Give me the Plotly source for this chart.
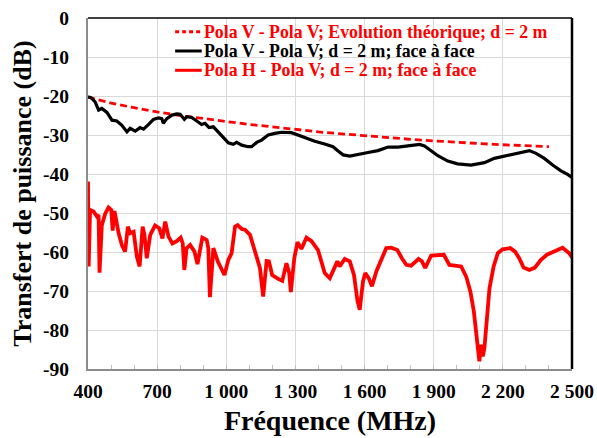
import plotly.graph_objects as go

# Theoretical evolution (Pola V - Pola V)
theo_freq = [400, 500, 600, 700, 800, 900, 1000, 1100, 1200, 1300, 1400, 1500, 1600, 1700,
             1800, 1900, 2000, 2100, 2200, 2300, 2400]
theo_db = [-20.3, -21.8, -23.0, -24.1, -25.0, -25.8, -26.6, -27.3, -27.9, -28.6, -29.2, -29.7,
           -30.2, -30.6, -31.1, -31.5, -31.9, -32.2, -32.5, -32.8, -33.0]

# Pola V - Pola V measured
vv_freq = [400, 414, 431, 446, 460, 482, 504, 525, 547, 569, 583, 605, 626, 641, 663, 684, 706,
           720, 727, 742, 764, 785, 800, 818, 829, 850, 872, 893, 908, 925, 944, 966, 987, 1009,
           1030, 1045, 1067, 1095, 1110, 1132, 1153, 1182, 1211, 1240, 1283, 1305, 1341, 1384,
           1427, 1463, 1485, 1507, 1536, 1572, 1615, 1658, 1702, 1745, 1788, 1802, 1839, 1860,
           1889, 1918, 1961, 2004, 2062, 2120, 2163, 2207, 2250, 2293, 2315, 2344, 2380, 2416,
           2452, 2481, 2500]
vv_db = [-20.2, -20.5, -21.5, -23.6, -23.2, -24.2, -26.2, -26.4, -27.5, -29.2, -28.3, -29.0,
         -28.1, -28.5, -27.3, -26.0, -25.6, -25.8, -27.0, -25.8, -24.9, -24.6, -24.7, -26.0,
         -25.3, -25.5, -26.4, -27.3, -27.0, -28.1, -27.9, -29.2, -30.7, -32.0, -32.4, -31.9,
         -32.6, -33.0, -33.0, -31.9, -31.3, -30.0, -29.6, -29.3, -29.4, -29.9, -30.7, -31.6,
         -32.3, -33.0, -34.1, -35.1, -35.4, -34.9, -34.5, -34.0, -33.1, -33.1, -32.8, -32.6,
         -32.4, -32.8, -34.1, -35.3, -36.7, -37.4, -37.7, -37.1, -36.0, -35.4, -35.0, -34.3,
         -34.0, -34.7, -36.0, -37.7, -39.2, -40.1, -40.9]

# Pola H - Pola V measured
hv_freq = [400, 403, 409, 424, 439, 446, 450, 460, 475, 489, 501, 507, 515, 533, 547, 561, 573,
           583, 598, 612, 624, 637, 645, 655, 670, 691, 709, 723, 735, 749, 766, 785, 802, 811,
           818, 828, 843, 862, 875, 886, 896, 915, 922, 929, 944, 963, 977, 992, 1009, 1023,
           1038, 1049, 1067, 1081, 1103, 1124, 1146, 1160, 1175, 1185, 1199, 1225, 1243, 1261,
           1273, 1280, 1295, 1309, 1326, 1348, 1370, 1398, 1427, 1449, 1468, 1482, 1492, 1514,
           1536, 1554, 1569, 1579, 1593, 1603, 1618, 1632, 1651, 1673, 1694, 1716, 1742, 1762,
           1781, 1802, 1834, 1849, 1863, 1889, 1918, 1944, 1968, 1997, 2019, 2041, 2059, 2074,
           2088, 2098, 2106, 2113, 2120, 2127, 2142, 2160, 2178, 2199, 2232, 2253, 2271, 2290,
           2315, 2339, 2365, 2391, 2416, 2437, 2459, 2474, 2488, 2500]
hv_db = [-41.9, -63.7, -49.2, -49.6, -50.9, -50.5, -65.3, -53.1, -50.1, -48.6, -49.2, -54.5,
         -49.5, -55.2, -58.2, -59.9, -53.5, -55.2, -54.8, -61.2, -63.7, -53.5, -55.6, -61.6,
         -55.6, -53.2, -53.9, -56.5, -52.2, -56.0, -57.8, -57.2, -56.3, -57.8, -64.6, -59.0,
         -58.2, -59.9, -63.1, -59.0, -56.3, -56.9, -59.0, -71.6, -59.0, -62.4, -64.0, -65.9,
         -62.0, -60.3, -53.5, -53.1, -54.1, -54.3, -55.6, -59.9, -64.1, -71.4, -62.3, -62.4,
         -65.9, -66.9, -67.4, -62.9, -65.4, -70.3, -61.6, -57.5, -59.2, -56.3, -57.2, -59.5,
         -65.4, -66.7, -64.1, -62.4, -63.7, -61.8, -62.4, -65.9, -72.5, -74.8, -67.6, -65.4,
         -66.7, -68.8, -65.0, -62.0, -59.0, -58.9, -59.5, -61.6, -63.3, -63.5, -61.8, -62.4,
         -64.1, -60.9, -60.7, -60.7, -63.3, -63.5, -63.7, -66.3, -70.1, -75.2, -82.1, -88.0,
         -83.8, -86.8, -84.6, -79.1, -69.3, -63.7, -60.3, -59.3, -59.0, -59.9, -61.6, -64.0,
         -64.6, -64.0, -62.0, -60.7, -59.9, -59.5, -58.9, -59.5, -60.3, -61.4]

series_names = ["Pola V - Pola V; Evolution théorique; d = 2 m",
                "Pola V - Pola V; d = 2 m; face à face",
                "Pola H - Pola V; d = 2 m; face à face"]
series_colors = ["#ff0000", "#000000", "#ff0000"]
series_dash = ["7px,4px", "solid", "solid"]
series_width = [2.8, 3.2, 3.8]

x_tickvals = [400, 700, 1000, 1300, 1600, 1900, 2200, 2500]
x_ticktext = ["400", "700", "1 000", "1 300", "1 600", "1 900", "2 200", "2 500"]
y_tickvals = [0, -10, -20, -30, -40, -50, -60, -70, -80, -90]
y_ticktext = ["0", "-10", "-20", "-30", "-40", "-50", "-60", "-70", "-80", "-90"]

FONT = "Liberation Serif"

fig = go.Figure()
for fx, fy, nm, col, dsh, w in zip([theo_freq, vv_freq, hv_freq], [theo_db, vv_db, hv_db],
                                   series_names, series_colors, series_dash, series_width):
    fig.add_trace(go.Scatter(x=fx, y=fy, mode="lines", name=nm, showlegend=False,
                             line=dict(color=col, width=w, dash=dsh)))

# manual legend (sample line + coloured bold label)
leg_y = [0.961, 0.906, 0.851]
for nm, col, dsh, w, ly in zip(series_names, series_colors, series_dash, series_width, leg_y):
    fig.add_shape(type="line", xref="paper", yref="paper", x0=0.180, x1=0.235, y0=ly, y1=ly,
                  line=dict(color=col, width=3, dash=("4px,3px" if dsh != "solid" else "solid")))
    fig.add_annotation(xref="paper", yref="paper", x=0.235, y=ly, xanchor="left",
                       yanchor="middle", showarrow=False, text=nm,
                       font=dict(family=FONT, size=17.8, color=col, weight="bold"))

fig.update_layout(
    width=597, height=438,
    margin=dict(l=88, r=25, t=18, b=69, autoexpand=False),
    paper_bgcolor="white", plot_bgcolor="white",
    font=dict(family=FONT, color="black"),
    showlegend=False,
    xaxis=dict(range=[400, 2500], tickvals=x_tickvals, ticktext=x_ticktext,
               automargin=False,
               showgrid=True, gridcolor="#d9d9d9", gridwidth=1,
               showline=True, linecolor="#8c8c8c", linewidth=2,
               ticks="inside", ticklen=4, tickcolor="#bfbfbf",
               minor=dict(dtick=100, ticks="inside", ticklen=4, tickcolor="#bfbfbf", showgrid=False),
               tickfont=dict(family=FONT, size=19.5, weight="bold"),
               ticklabelstandoff=4,
               title=dict(text="Fréquence (MHz)", font=dict(family=FONT, size=28, weight="bold"),
                          standoff=9),
               zeroline=False),
    yaxis=dict(range=[-90, 0], tickvals=y_tickvals, ticktext=y_ticktext,
               automargin=False,
               showgrid=True, gridcolor="#d9d9d9", gridwidth=1,
               showline=True, linecolor="#8c8c8c", linewidth=2,
               ticks="", tickfont=dict(family=FONT, size=19.5, weight="bold"),
               ticklabelstandoff=13,
               title=dict(text="Transfert de puissance (dB)",
                          font=dict(family=FONT, size=26, weight="bold"), standoff=4),
               zeroline=False),
)
# black frame on top and right
fig.add_shape(type="line", xref="paper", yref="paper", x0=0, x1=1, y0=1, y1=1,
              line=dict(color="black", width=1.5))
fig.add_shape(type="line", xref="paper", yref="paper", x0=1, x1=1, y0=0, y1=1,
              line=dict(color="black", width=2.5))

fig.write_html("out.html", config={"displayModeBar": False},
               post_script="document.body.style.margin='0';document.body.style.padding='0';")
